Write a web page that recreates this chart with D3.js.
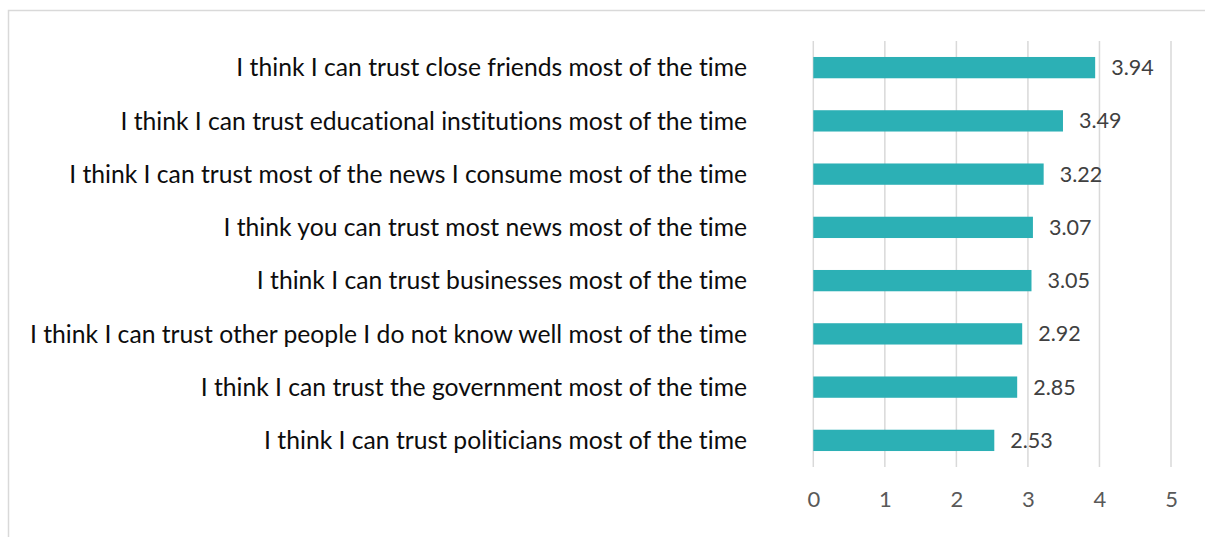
<!DOCTYPE html>
<html>
<head>
<meta charset="utf-8">
<script src="https://cdn.jsdelivr.net/npm/d3@7"></script>
<style>
	body { margin: 0; background: #fff; }
	svg { display: block; }
	text { font-variant-ligatures: none; }
</style>
</head>
<body>
<div class="chart"></div>
<script>
var categories = [
	"I think I can trust close friends most of the time",
	"I think I can trust educational institutions most of the time",
	"I think I can trust most of the news I consume most of the time",
	"I think you can trust most news most of the time",
	"I think I can trust businesses most of the time",
	"I think I can trust other people I do not know well most of the time",
	"I think I can trust the government most of the time",
	"I think I can trust politicians most of the time"
];
var values = [3.94, 3.49, 3.22, 3.07, 3.05, 2.92, 2.85, 2.53];
var tickValues = [0, 1, 2, 3, 4, 5];

var W = 1205, H = 537;
var font = "Lato, 'Open Sans', sans-serif";

var svg = d3.select(".chart")
			.append("svg")
			.attr("width", W)
			.attr("height", H);

// chart area border (runs off the right/bottom edge)
svg.append("rect")
   .attr("x", 8.5).attr("y", 10.5)
   .attr("width", W).attr("height", H)
   .style("fill", "none")
   .style("stroke", "#d9d9d9")
   .style("stroke-width", 1.5);

var x = d3.scaleLinear().domain([0, 5]).range([813.3, 1171]);
var y = d3.scaleBand().domain(categories).range([41, 467])
		  .paddingInner(0.6).paddingOuter(0.3);

// gridlines
svg.selectAll(".grid")
   .data(tickValues)
   .enter().append("line")
   .attr("x1", function(d) { return x(d); })
   .attr("x2", function(d) { return x(d); })
   .attr("y1", 41).attr("y2", 467)
   .style("stroke", "#d9d9d9")
   .style("stroke-width", 1.5);

// x axis labels
var xAxis = d3.axisBottom(x).tickValues(tickValues).tickFormat(d3.format("d"))
			  .tickSize(0).tickPadding(0);
var gx = svg.append("g").attr("transform", "translate(0,491)").call(xAxis);
gx.select(".domain").remove();
gx.selectAll("text")
  .attr("dy", "0.71em")
  .style("font-family", font)
  .style("font-size", "22px")
  .style("fill", "#595959");

// bars
svg.selectAll(".bar")
   .data(values)
   .enter().append("rect")
   .attr("x", x(0))
   .attr("y", function(d, i) { return y(categories[i]); })
   .attr("width", function(d) { return x(d) - x(0); })
   .attr("height", y.bandwidth())
   .style("fill", "#2cb0b5");

// value labels
svg.selectAll(".val")
   .data(values)
   .enter().append("text")
   .attr("x", function(d) { return x(d) + 16; })
   .attr("y", function(d, i) { return y(categories[i]) + y.bandwidth() / 2; })
   .attr("dy", "0.35em")
   .text(function(d) { return d.toFixed(2); })
   .style("font-family", font)
   .style("font-size", "21.5px")
   .style("fill", "#404040");

// category labels
svg.selectAll(".cat")
   .data(categories)
   .enter().append("text")
   .attr("x", 747)
   .attr("y", function(d) { return y(d) + y.bandwidth() / 2; })
   .attr("dy", "0.35em")
   .attr("text-anchor", "end")
   .text(function(d) { return d; })
   .style("font-family", font)
   .style("font-size", "24.7px")
   .style("fill", "#0d0d0d");
</script>
</body>
</html>
